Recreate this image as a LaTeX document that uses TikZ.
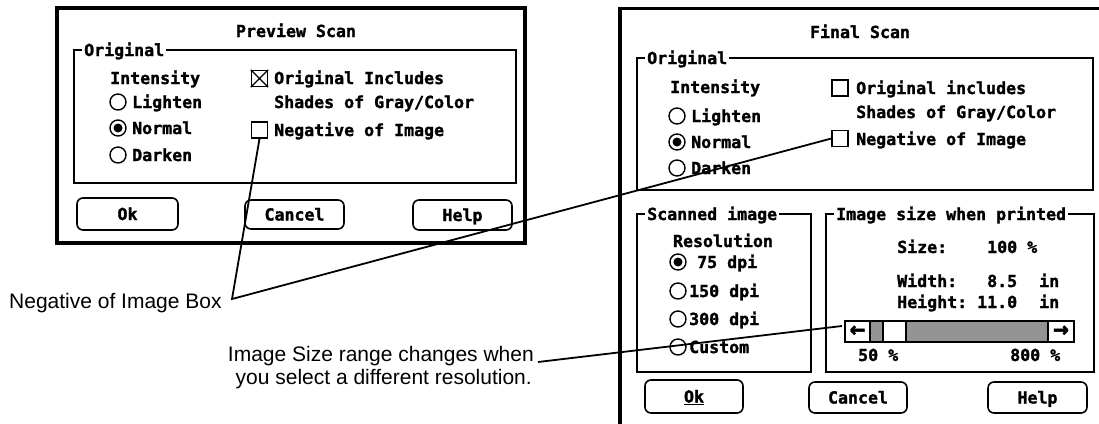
\documentclass[tikz,border=0pt]{standalone}
\usepackage{fontspec}
\newfontfamily\dlgfont[FakeBold=1.6]{DejaVu Sans Mono Bold}
\newfontfamily\notefont{Liberation Sans}

\newcommand*{\dlgSize}{\fontsize{16.6}{18}\selectfont}
\newcommand*{\noteSize}{\fontsize{21}{23}\selectfont}
\newcommand*{\stipple}{black!42}

\tikzset{
	dlg/.style={font=\dlgfont\dlgSize, inner sep=0pt, text height=12pt, text depth=0pt},
	grplbl/.style={dlg, anchor=west, fill=white, inner xsep=2pt},
	radio/.style={draw, circle, line width=1.4pt, minimum size=16pt, inner sep=0pt},
	chkbox/.style={draw, rectangle, line width=1.4pt, minimum size=16pt, inner sep=0pt},
	btn/.style={dlg, draw, rounded corners=6pt, line width=1.6pt},
	note/.style={font=\notefont\noteSize, inner sep=0pt, text height=15pt, text depth=0pt},
	callout/.style={line width=1.8pt},
}

\begin{document}
\begin{tikzpicture}[x=1pt,y=-1pt]
	\useasboundingbox (0,0) rectangle (1099,423);
	\clip (0,0) rectangle (1099,423);

	% Preview Scan
	\draw [line width=3.5pt] (57,8) rectangle (525,243);
	\node [dlg] (ptitle) at (296,31) {Preview Scan};
	\draw [line width=1.3pt] (74,50) rectangle (516,183);
	\node [grplbl] (porig) at (82,50) {Original};
	\node [dlg,anchor=west] (pint) at (110,78) {Intensity};
	\foreach \ry/\rl in {102/Lighten,128/Normal,155/Darken} {
		\node [radio] (pr\rl) at (118,\ry) {};
		\node [dlg,anchor=west] (pt\rl) at (132,\ry) {\rl};
	}
	\fill (prNormal) circle [radius=4.5pt];
	\node [chkbox] (pchk) at (259.5,78.5) {};
	\draw [line width=1.2pt] (pchk.north west) -- (pchk.south east) (pchk.north east) -- (pchk.south west);
	\node [dlg,anchor=west] (pchktxt) at (274,78) {Original Includes};
	\node [dlg,anchor=west] (pshade) at (274,102) {Shades of Gray/Color};
	\node [chkbox] (pneg) at (259.5,130) {};
	\node [dlg,anchor=west] (pnegtxt) at (274,130) {Negative of Image};
	\node [btn,minimum width=101pt,minimum height=32pt] (pok) at (127.5,214) {Ok};
	\node [btn,minimum width=99pt,minimum height=29pt] (pcancel) at (294.5,214.5) {Cancel};
	\node [btn,minimum width=99pt,minimum height=30pt] (phelp) at (462.5,215) {Help};

	% Final Scan
	\draw [line width=4pt] (620,8) -- (620,440);
	\draw [line width=3pt] (618,8) -- (1110,8);
	\node [dlg] (ftitle) at (860,32) {Final Scan};
	\draw [line width=1.3pt] (637,58) rectangle (1093,190);
	\node [grplbl] (forig) at (645,58) {Original};
	\node [dlg,anchor=west] (fint) at (670,87) {Intensity};
	\foreach \ry/\rl in {116/Lighten,142/Normal,168/Darken} {
		\node [radio] (fr\rl) at (677,\ry) {};
		\node [dlg,anchor=west] (ft\rl) at (691,\ry) {\rl};
	}
	\fill (frNormal) circle [radius=4.5pt];
	\node [chkbox] (fchk) at (840,88) {};
	\node [dlg,anchor=west] (fchktxt) at (856,88) {Original includes};
	\node [dlg,anchor=west] (fshade) at (856,112) {Shades of Gray/Color};
	\node [chkbox] (fneg) at (840,138.5) {};
	\node [dlg,anchor=west] (fnegtxt) at (856,139) {Negative of Image};

	% Scanned image
	\draw [line width=1.3pt] (637,214) rectangle (811,372);
	\node [grplbl] (fscan) at (645,214) {Scanned image};
	\node [dlg] (fres) at (723,241) {Resolution};
	\foreach \ry/\rn/\rx/\rl in {262/a/697/75 dpi,291/b/689/150 dpi,319/c/689/300 dpi,347/d/689/Custom} {
		\node [radio] (fres\rn) at (678,\ry) {};
		\node [dlg,anchor=west] (frest\rn) at (\rx,\ry) {\rl};
	}
	\fill (fresa) circle [radius=4.5pt];

	% Image size when printed
	\draw [line width=1.3pt] (826,214) rectangle (1094,372);
	\node [grplbl] (fsize) at (834,214) {Image size when printed};
	\node [dlg,anchor=west] (fszl) at (897,247) {Size:};
	\node [dlg,anchor=west] (fszv) at (987,247) {100 \%};
	\node [dlg,anchor=west] (fwdl) at (897,281) {Width:};
	\node [dlg,anchor=west] (fwdv) at (987,281) {8.5};
	\node [dlg,anchor=west] (fwdu) at (1039,281) {in};
	\node [dlg,anchor=west] (fhtl) at (897,302) {Height:};
	\node [dlg,anchor=west] (fhtv) at (977,302) {11.0};
	\node [dlg,anchor=west] (fhtu) at (1039,302) {in};
	\fill [\stipple] (870,321) rectangle (1048,342);
	\draw [line width=1.3pt,fill=white] (883,321) rectangle (906,342);
	\draw [line width=1.5pt] (845,321) rectangle (1074,342);
	\draw [line width=1.3pt] (870,321) -- (870,342) (1048,321) -- (1048,342);
	\node [font=\dlgfont\fontsize{26}{26}\selectfont,inner sep=0pt] (fleft) at (857.5,331.5) {←};
	\node [font=\dlgfont\fontsize{26}{26}\selectfont,inner sep=0pt] (fright) at (1061,331.5) {→};
	\node [dlg,anchor=west] (fmin) at (858,355) {50 \%};
	\node [dlg,anchor=west] (fmax) at (1010,355) {800 \%};

	\node [btn,minimum width=98pt,minimum height=33pt] (fok) at (694,396.5) {\underline{Ok}};
	\node [btn,minimum width=98pt,minimum height=31pt] (fcancel) at (858,397.5) {Cancel};
	\node [btn,minimum width=99pt,minimum height=31pt] (fhelp) at (1037.5,397.5) {Help};

	% callouts
	\node [note,anchor=south west] (neglbl) at (9,309) {Negative of Image Box};
	\node [note,anchor=south east] (szlbl) at (534,362) {Image Size range changes when};
	\node [note,anchor=south east] (szlbl2) at (532,385) {you select a different resolution.};
	\coordinate (negvtx) at (232,299);
	\coordinate (sldtip) at (842,326);
	\draw [callout] (pneg.south) -- (negvtx) -- (fneg.west);
	\draw [callout] ([xshift=4pt]szlbl.south east) -- (sldtip);
\end{tikzpicture}
\end{document}
